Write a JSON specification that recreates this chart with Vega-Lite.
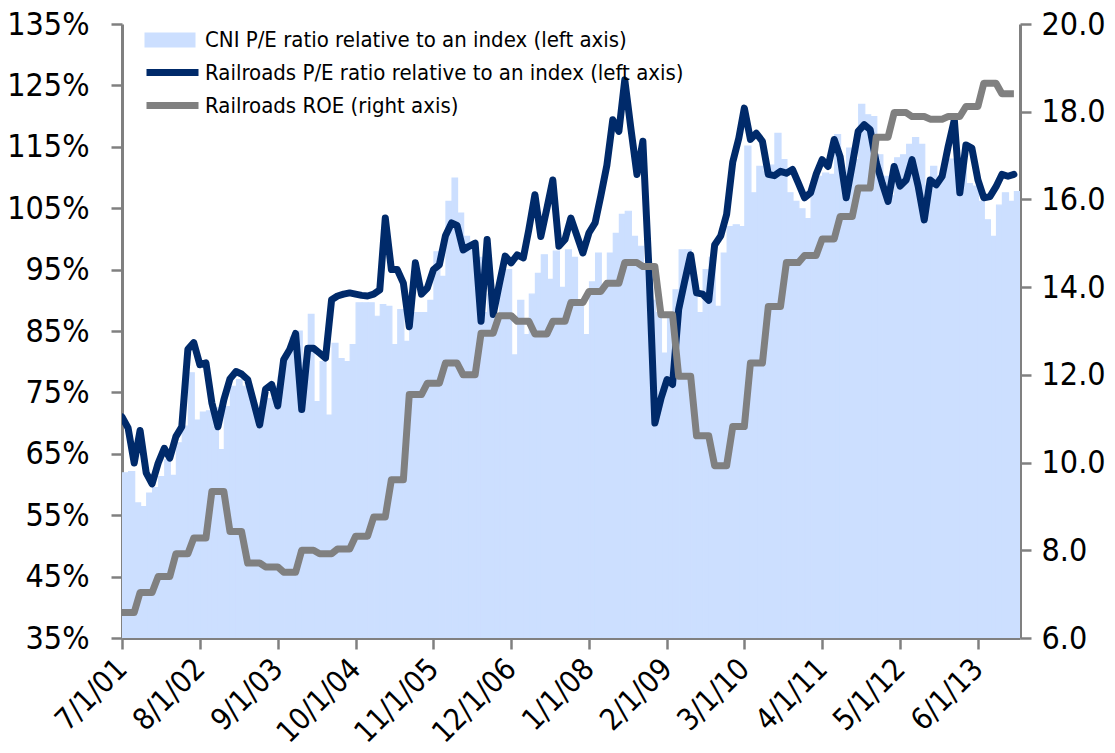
{
  "$schema": "https://vega.github.io/schema/vega-lite/v6.json",
  "width": 898,
  "height": 614,
  "autosize": {"type": "none"},
  "padding": {"left": 122, "top": 24, "right": 95, "bottom": 115},
  "background": "white",
  "config": {
    "view": {"stroke": null},
    "font": "'DejaVu Sans Condensed', 'Liberation Sans', sans-serif",
    "axis": {"labelFont": "'DejaVu Sans Condensed', 'Liberation Sans', sans-serif", "labelColor": "#000000", "labelFontSize": 32, "domainColor": "#808080", "tickColor": "#808080", "domainWidth": 3, "tickWidth": 2.5, "tickSize": 11, "grid": false, "title": null},
    "legend": {"labelLimit": 0, "labelFontSize": 22, "labelColor": "#000000", "title": null, "padding": 0, "symbolSize": 400, "labelOffset": 19, "rowPadding": 9, "orient": "none", "symbolOpacity": 1}
  },
  "data": {"values": [
    {"date":"2001-07-01","cni":61.9,"rail":71.0,"roe":6.58},
    {"date":"2001-08-01","cni":62.1,"rail":69.2,"roe":6.58},
    {"date":"2001-09-01","cni":57.0,"rail":63.5,"roe":6.58},
    {"date":"2001-10-01","cni":56.4,"rail":68.8,"roe":7.04},
    {"date":"2001-11-01","cni":58.6,"rail":61.9,"roe":7.04},
    {"date":"2001-12-01","cni":59.5,"rail":60.1,"roe":7.04},
    {"date":"2002-01-01","cni":61.3,"rail":63.5,"roe":7.40},
    {"date":"2002-02-01","cni":64.0,"rail":65.9,"roe":7.40},
    {"date":"2002-03-01","cni":61.5,"rail":64.3,"roe":7.40},
    {"date":"2002-04-01","cni":66.8,"rail":67.8,"roe":7.92},
    {"date":"2002-05-01","cni":69.5,"rail":69.4,"roe":7.92},
    {"date":"2002-06-01","cni":78.2,"rail":82.0,"roe":7.92},
    {"date":"2002-07-01","cni":70.5,"rail":83.1,"roe":8.28},
    {"date":"2002-08-01","cni":71.8,"rail":79.5,"roe":8.28},
    {"date":"2002-09-01","cni":72.0,"rail":79.8,"roe":8.28},
    {"date":"2002-10-01","cni":72.5,"rail":73.3,"roe":9.34},
    {"date":"2002-11-01","cni":65.7,"rail":69.4,"roe":9.34},
    {"date":"2002-12-01","cni":72.7,"rail":73.8,"roe":9.34},
    {"date":"2003-01-01","cni":76.0,"rail":77.2,"roe":8.43},
    {"date":"2003-02-01","cni":77.1,"rail":78.4,"roe":8.43},
    {"date":"2003-03-01","cni":76.0,"rail":78.0,"roe":8.43},
    {"date":"2003-04-01","cni":74.3,"rail":77.1,"roe":7.71},
    {"date":"2003-05-01","cni":71.3,"rail":73.5,"roe":7.71},
    {"date":"2003-06-01","cni":72.0,"rail":69.7,"roe":7.71},
    {"date":"2003-07-01","cni":74.0,"rail":75.5,"roe":7.62},
    {"date":"2003-08-01","cni":76.0,"rail":76.3,"roe":7.62},
    {"date":"2003-09-01","cni":77.6,"rail":72.8,"roe":7.62},
    {"date":"2003-10-01","cni":81.0,"rail":80.3,"roe":7.50},
    {"date":"2003-11-01","cni":84.0,"rail":82.0,"roe":7.50},
    {"date":"2003-12-01","cni":85.0,"rail":84.6,"roe":7.50},
    {"date":"2004-01-01","cni":80.0,"rail":72.2,"roe":8.00},
    {"date":"2004-02-01","cni":87.7,"rail":82.2,"roe":8.00},
    {"date":"2004-03-01","cni":73.5,"rail":82.2,"roe":8.00},
    {"date":"2004-04-01","cni":80.0,"rail":81.4,"roe":7.92},
    {"date":"2004-05-01","cni":71.3,"rail":80.6,"roe":7.92},
    {"date":"2004-06-01","cni":83.0,"rail":90.1,"roe":7.92},
    {"date":"2004-07-01","cni":80.5,"rail":90.7,"roe":8.03},
    {"date":"2004-08-01","cni":80.0,"rail":91.0,"roe":8.03},
    {"date":"2004-09-01","cni":82.8,"rail":91.2,"roe":8.03},
    {"date":"2004-10-01","cni":89.6,"rail":91.0,"roe":8.32},
    {"date":"2004-11-01","cni":89.6,"rail":90.8,"roe":8.32},
    {"date":"2004-12-01","cni":89.6,"rail":90.7,"roe":8.32},
    {"date":"2005-01-01","cni":87.4,"rail":91.0,"roe":8.76},
    {"date":"2005-02-01","cni":89.3,"rail":91.7,"roe":8.76},
    {"date":"2005-03-01","cni":89.0,"rail":103.4,"roe":8.76},
    {"date":"2005-04-01","cni":82.8,"rail":95.0,"roe":9.61},
    {"date":"2005-05-01","cni":88.5,"rail":95.0,"roe":9.61},
    {"date":"2005-06-01","cni":83.3,"rail":92.8,"roe":9.61},
    {"date":"2005-07-01","cni":88.0,"rail":85.7,"roe":11.55},
    {"date":"2005-08-01","cni":88.0,"rail":96.1,"roe":11.55},
    {"date":"2005-09-01","cni":88.0,"rail":91.0,"roe":11.55},
    {"date":"2005-10-01","cni":90.0,"rail":92.0,"roe":11.81},
    {"date":"2005-11-01","cni":97.9,"rail":95.0,"roe":11.81},
    {"date":"2005-12-01","cni":93.9,"rail":95.8,"roe":11.81},
    {"date":"2006-01-01","cni":106.1,"rail":100.5,"roe":12.27},
    {"date":"2006-02-01","cni":109.9,"rail":102.6,"roe":12.27},
    {"date":"2006-03-01","cni":104.2,"rail":102.2,"roe":12.27},
    {"date":"2006-04-01","cni":100.4,"rail":98.2,"roe":12.00},
    {"date":"2006-05-01","cni":98.8,"rail":98.8,"roe":12.00},
    {"date":"2006-06-01","cni":97.0,"rail":99.3,"roe":12.00},
    {"date":"2006-07-01","cni":88.0,"rail":86.6,"roe":12.95},
    {"date":"2006-08-01","cni":91.0,"rail":99.9,"roe":12.95},
    {"date":"2006-09-01","cni":87.0,"rail":87.7,"roe":12.95},
    {"date":"2006-10-01","cni":95.0,"rail":92.5,"roe":13.35},
    {"date":"2006-11-01","cni":95.0,"rail":97.2,"roe":13.35},
    {"date":"2006-12-01","cni":81.1,"rail":96.1,"roe":13.35},
    {"date":"2007-01-01","cni":90.0,"rail":97.4,"roe":13.22},
    {"date":"2007-02-01","cni":84.4,"rail":96.9,"roe":13.22},
    {"date":"2007-03-01","cni":91.0,"rail":101.5,"roe":13.22},
    {"date":"2007-04-01","cni":94.4,"rail":107.2,"roe":12.93},
    {"date":"2007-05-01","cni":97.4,"rail":100.4,"roe":12.93},
    {"date":"2007-06-01","cni":93.4,"rail":105.0,"roe":12.93},
    {"date":"2007-07-01","cni":98.0,"rail":109.6,"roe":13.22},
    {"date":"2007-08-01","cni":92.1,"rail":98.8,"roe":13.22},
    {"date":"2007-09-01","cni":98.2,"rail":99.9,"roe":13.22},
    {"date":"2007-10-01","cni":97.0,"rail":103.4,"roe":13.65},
    {"date":"2007-11-01","cni":89.8,"rail":100.5,"roe":13.65},
    {"date":"2007-12-01","cni":84.4,"rail":97.7,"roe":13.65},
    {"date":"2008-01-01","cni":93.0,"rail":101.0,"roe":13.90},
    {"date":"2008-02-01","cni":97.7,"rail":102.6,"roe":13.90},
    {"date":"2008-03-01","cni":92.0,"rail":107.0,"roe":13.90},
    {"date":"2008-04-01","cni":97.7,"rail":112.0,"roe":14.09},
    {"date":"2008-05-01","cni":100.9,"rail":119.4,"roe":14.09},
    {"date":"2008-06-01","cni":104.0,"rail":117.5,"roe":14.09},
    {"date":"2008-07-01","cni":104.5,"rail":125.9,"roe":14.56},
    {"date":"2008-08-01","cni":100.4,"rail":118.0,"roe":14.56},
    {"date":"2008-09-01","cni":98.8,"rail":110.5,"roe":14.56},
    {"date":"2008-10-01","cni":95.0,"rail":115.9,"roe":14.47},
    {"date":"2008-11-01","cni":90.0,"rail":95.0,"roe":14.47},
    {"date":"2008-12-01","cni":88.0,"rail":70.0,"roe":14.47},
    {"date":"2009-01-01","cni":81.4,"rail":74.0,"roe":13.37},
    {"date":"2009-02-01","cni":87.9,"rail":77.1,"roe":13.37},
    {"date":"2009-03-01","cni":91.7,"rail":76.3,"roe":13.37},
    {"date":"2009-04-01","cni":98.2,"rail":88.5,"roe":11.97},
    {"date":"2009-05-01","cni":98.2,"rail":93.0,"roe":11.97},
    {"date":"2009-06-01","cni":93.0,"rail":97.4,"roe":11.97},
    {"date":"2009-07-01","cni":88.0,"rail":91.2,"roe":10.61},
    {"date":"2009-08-01","cni":95.0,"rail":91.0,"roe":10.61},
    {"date":"2009-09-01","cni":97.0,"rail":90.0,"roe":10.61},
    {"date":"2009-10-01","cni":89.0,"rail":99.0,"roe":9.93},
    {"date":"2009-11-01","cni":97.7,"rail":100.5,"roe":9.93},
    {"date":"2009-12-01","cni":102.0,"rail":104.0,"roe":9.93},
    {"date":"2010-01-01","cni":102.3,"rail":112.5,"roe":10.82},
    {"date":"2010-02-01","cni":102.0,"rail":116.4,"roe":10.82},
    {"date":"2010-03-01","cni":115.1,"rail":121.3,"roe":10.82},
    {"date":"2010-04-01","cni":107.5,"rail":116.2,"roe":12.27},
    {"date":"2010-05-01","cni":111.8,"rail":117.2,"roe":12.27},
    {"date":"2010-06-01","cni":111.0,"rail":115.9,"roe":12.27},
    {"date":"2010-07-01","cni":112.0,"rail":110.5,"roe":13.56},
    {"date":"2010-08-01","cni":117.2,"rail":110.3,"roe":13.56},
    {"date":"2010-09-01","cni":112.9,"rail":111.0,"roe":13.56},
    {"date":"2010-10-01","cni":107.5,"rail":110.7,"roe":14.56},
    {"date":"2010-11-01","cni":106.1,"rail":111.3,"roe":14.56},
    {"date":"2010-12-01","cni":104.9,"rail":109.1,"roe":14.56},
    {"date":"2011-01-01","cni":103.3,"rail":106.7,"roe":14.72},
    {"date":"2011-02-01","cni":108.6,"rail":107.5,"roe":14.72},
    {"date":"2011-03-01","cni":110.2,"rail":110.5,"roe":14.72},
    {"date":"2011-04-01","cni":110.7,"rail":112.9,"roe":15.10},
    {"date":"2011-05-01","cni":110.5,"rail":111.8,"roe":15.10},
    {"date":"2011-06-01","cni":117.0,"rail":116.2,"roe":15.10},
    {"date":"2011-07-01","cni":109.1,"rail":113.4,"roe":15.61},
    {"date":"2011-08-01","cni":114.8,"rail":106.7,"roe":15.61},
    {"date":"2011-09-01","cni":112.9,"rail":112.1,"roe":15.61},
    {"date":"2011-10-01","cni":121.9,"rail":117.5,"roe":16.26},
    {"date":"2011-11-01","cni":120.2,"rail":118.6,"roe":16.26},
    {"date":"2011-12-01","cni":119.9,"rail":117.8,"roe":16.26},
    {"date":"2012-01-01","cni":113.7,"rail":112.4,"roe":17.42},
    {"date":"2012-02-01","cni":110.2,"rail":109.0,"roe":17.42},
    {"date":"2012-03-01","cni":107.0,"rail":106.1,"roe":17.42},
    {"date":"2012-04-01","cni":113.2,"rail":111.8,"roe":17.98},
    {"date":"2012-05-01","cni":113.7,"rail":108.6,"roe":17.98},
    {"date":"2012-06-01","cni":115.4,"rail":109.6,"roe":17.98},
    {"date":"2012-07-01","cni":116.5,"rail":112.9,"roe":17.89},
    {"date":"2012-08-01","cni":115.4,"rail":108.6,"roe":17.89},
    {"date":"2012-09-01","cni":108.6,"rail":103.1,"roe":17.89},
    {"date":"2012-10-01","cni":111.8,"rail":109.6,"roe":17.83},
    {"date":"2012-11-01","cni":110.0,"rail":108.8,"roe":17.83},
    {"date":"2012-12-01","cni":111.8,"rail":110.2,"roe":17.83},
    {"date":"2013-01-01","cni":113.0,"rail":115.1,"roe":17.89},
    {"date":"2013-02-01","cni":111.8,"rail":119.4,"roe":17.89},
    {"date":"2013-03-01","cni":111.8,"rail":107.5,"roe":17.89},
    {"date":"2013-04-01","cni":109.0,"rail":115.3,"roe":18.12},
    {"date":"2013-05-01","cni":108.6,"rail":114.8,"roe":18.12},
    {"date":"2013-06-01","cni":106.1,"rail":109.6,"roe":18.12},
    {"date":"2013-07-01","cni":103.1,"rail":106.7,"roe":18.65},
    {"date":"2013-08-01","cni":100.4,"rail":106.9,"roe":18.65},
    {"date":"2013-09-01","cni":105.5,"rail":108.5,"roe":18.65},
    {"date":"2013-10-01","cni":107.5,"rail":110.5,"roe":18.41},
    {"date":"2013-11-01","cni":106.1,"rail":110.2,"roe":18.41},
    {"date":"2013-12-01","cni":107.7,"rail":110.5,"roe":18.41}
  ]},
  "layer": [
    {
      "layer": [
        {
          "mark": {"type": "bar", "clip": true, "stroke": "#CCDFFF", "strokeWidth": 1.2, "binSpacing": 0},
          "encoding": {
            "x": {"field": "date", "type": "temporal", "timeUnit": "utcyearmonth",
              "scale": {"type": "utc", "nice": false, "domain": [{"year": 2001, "month": 7, "date": 1, "utc": true}, {"year": 2014, "month": 1, "date": 1, "utc": true}]},
              "axis": {"values": [
                {"year": 2001, "month": 7, "date": 1, "utc": true},
                {"year": 2002, "month": 8, "date": 1, "utc": true},
                {"year": 2003, "month": 9, "date": 1, "utc": true},
                {"year": 2004, "month": 10, "date": 1, "utc": true},
                {"year": 2005, "month": 11, "date": 1, "utc": true},
                {"year": 2006, "month": 12, "date": 1, "utc": true},
                {"year": 2008, "month": 1, "date": 1, "utc": true},
                {"year": 2009, "month": 2, "date": 1, "utc": true},
                {"year": 2010, "month": 3, "date": 1, "utc": true},
                {"year": 2011, "month": 4, "date": 1, "utc": true},
                {"year": 2012, "month": 5, "date": 1, "utc": true},
                {"year": 2013, "month": 6, "date": 1, "utc": true}
              ], "labelExpr": "utcFormat(datum.value, '%-m/%-d/%y')", "labelAngle": -45, "labelAlign": "right", "labelBaseline": "middle", "labelPadding": 15, "labelFontSize": 30, "labelOverlap": false, "labelFlush": false}},
            "y": {"field": "cni", "type": "quantitative",
              "scale": {"domain": [35, 135], "nice": false, "zero": false},
              "axis": {"orient": "left", "values": [35, 45, 55, 65, 75, 85, 95, 105, 115, 125, 135], "labelExpr": "datum.value + '%'", "labelPadding": 22}},
            "fill": {"datum": "CNI P/E ratio relative to an index (left axis)", "type": "nominal",
              "scale": {"domain": ["CNI P/E ratio relative to an index (left axis)"], "range": ["#CCDFFF"]},
              "legend": {"legendX": 37, "legendY": 5, "symbolType": "M-2.55,-0.75H2.55V0.75H-2.55Z", "symbolStrokeWidth": 0, "labelOffset": 24}}
          }
        },
        {
          "mark": {"type": "line", "clip": true, "strokeWidth": 7, "strokeCap": "round", "strokeJoin": "round", "timeUnitBandPosition": 0.5},
          "encoding": {
            "x": {"field": "date", "type": "temporal", "timeUnit": "utcyearmonth"},
            "y": {"field": "rail", "type": "quantitative"},
            "stroke": {"datum": "Railroads P/E ratio relative to an index (left axis)", "type": "nominal",
              "scale": {"domain": ["Railroads P/E ratio relative to an index (left axis)", "Railroads ROE (right axis)"], "range": ["#002A6A", "#808080"]},
              "legend": {"legendX": 37, "legendY": 35, "symbolType": "M-2.6,0H2.6", "symbolStrokeWidth": 7, "rowPadding": 4}}
          }
        }
      ]
    },
    {
      "mark": {"type": "line", "clip": true, "strokeWidth": 7, "strokeCap": "butt", "strokeJoin": "round", "timeUnitBandPosition": 0.5},
      "encoding": {
        "x": {"field": "date", "type": "temporal", "timeUnit": "utcyearmonth"},
        "y": {"field": "roe", "type": "quantitative",
          "scale": {"domain": [6, 20], "nice": false, "zero": false},
          "axis": {"orient": "right", "values": [6, 8, 10, 12, 14, 16, 18, 20], "format": ".1f", "labelPadding": 10}},
        "stroke": {"datum": "Railroads ROE (right axis)", "type": "nominal",
          "legend": {"legendX": 37, "legendY": 35, "symbolType": "M-2.6,0H2.6", "symbolStrokeWidth": 7, "rowPadding": 4}}
      }
    }
  ],
  "resolve": {"scale": {"y": "independent"}}
}
